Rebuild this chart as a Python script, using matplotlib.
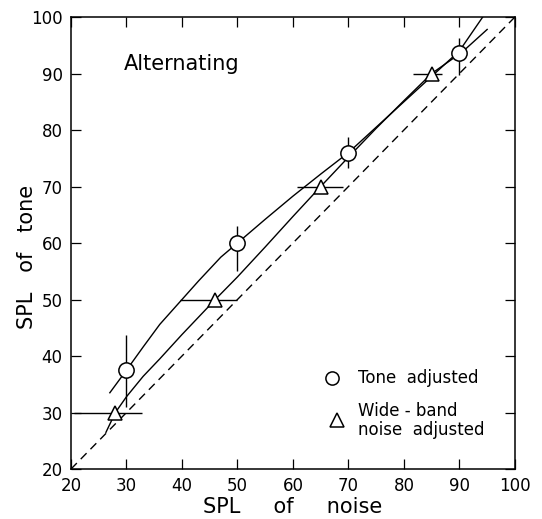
import numpy as np
import matplotlib.pyplot as plt

# measured points, tone adjusted (circles), vertical spread
tone_x = [30, 50, 70, 90]
tone_y = [37.5, 60, 76, 93.6]
tone_lo = [31, 55, 73.3, 89.8]
tone_hi = [43.7, 63, 78.8, 96.2]

# wide-band noise adjusted (triangles), horizontal spread
noise_x = [28, 46, 65, 85]
noise_y = [30, 50, 70, 90]
noise_lo = [20.5, 39.6, 60.7, 81.6]
noise_hi = [32.8, 50, 69, 86.8]

# hand-drawn fitted curves
tone_curve_x = [27, 30, 33, 36, 40, 43, 47, 50, 55, 60, 65, 70, 75, 80, 85, 90, 94.2]
tone_curve_y = [33.5, 37.5, 41.6, 45.6, 50, 53.3, 57.5, 60, 64.2, 68.3, 72.2, 76, 80.5, 85, 89.5, 94, 100]
noise_curve_x = [26.3, 28, 30, 33, 36, 40, 46, 50, 55, 60, 65, 70, 75, 80, 85, 90.5, 95]
noise_curve_y = [26.5, 30, 32.8, 36.4, 39.5, 43.8, 50, 54, 59.3, 64.7, 70, 75.2, 80.3, 85.2, 90, 93.8, 97.8]

diag = [20, 100]
ticks = list(range(20, 101, 10))

fig = plt.figure(figsize=(5.42, 5.19), dpi=100)
ax = fig.add_axes([0.131, 0.0963, 0.819, 0.8709])

ax.plot(diag, diag, color='black', lw=1, dashes=(6, 4))
ax.plot(tone_curve_x, tone_curve_y, color='black', lw=1)
ax.plot(noise_curve_x, noise_curve_y, color='black', lw=1)

yerr = [np.array(tone_y) - np.array(tone_lo), np.array(tone_hi) - np.array(tone_y)]
ax.errorbar(tone_x, tone_y, yerr=yerr, fmt='none', ecolor='black', elinewidth=1, capsize=0)
xerr = [np.array(noise_x) - np.array(noise_lo), np.array(noise_hi) - np.array(noise_x)]
ax.errorbar(noise_x, noise_y, xerr=xerr, fmt='none', ecolor='black', elinewidth=1, capsize=0)

ax.plot(tone_x, tone_y, 'o', ms=11, mfc='white', mec='black', mew=1.1, zorder=5)
ax.plot(noise_x, noise_y, '^', ms=10.5, mfc='white', mec='black', mew=1.1, zorder=5)

ax.set_xlim(20, 100)
ax.set_ylim(20, 100)
ax.set_xticks(ticks)
ax.set_yticks(ticks)
ax.tick_params(direction='in', length=7.2, width=0.9, top=True, right=True,
               labelsize=12, pad=6)
for s in ax.spines.values():
    s.set_linewidth(1.1)

ax.set_xlabel('SPL     of     noise', fontsize=15)
ax.set_ylabel('SPL   of   tone', fontsize=15)
ax.xaxis.set_label_coords(0.5, -0.062)
ax.yaxis.set_label_coords(-0.077, 0.469)

ax.text(0.118, 0.897, 'Alternating', transform=ax.transAxes, fontsize=15,
        va='center', ha='left')

# legend drawn by hand to match the placement
ax.plot([0.588], [0.201], 'o', ms=9.5, mfc='white', mec='black', mew=1.1,
        transform=ax.transAxes)
ax.text(0.646, 0.201, 'Tone  adjusted', transform=ax.transAxes, fontsize=12,
        va='center', ha='left')
ax.plot([0.599], [0.108], '^', ms=10, mfc='white', mec='black', mew=1.1,
        transform=ax.transAxes)
ax.text(0.646, 0.107, 'Wide - band\nnoise  adjusted', transform=ax.transAxes,
        fontsize=12, va='center', ha='left', linespacing=1.05)

fig.savefig('out.png', dpi=100)
